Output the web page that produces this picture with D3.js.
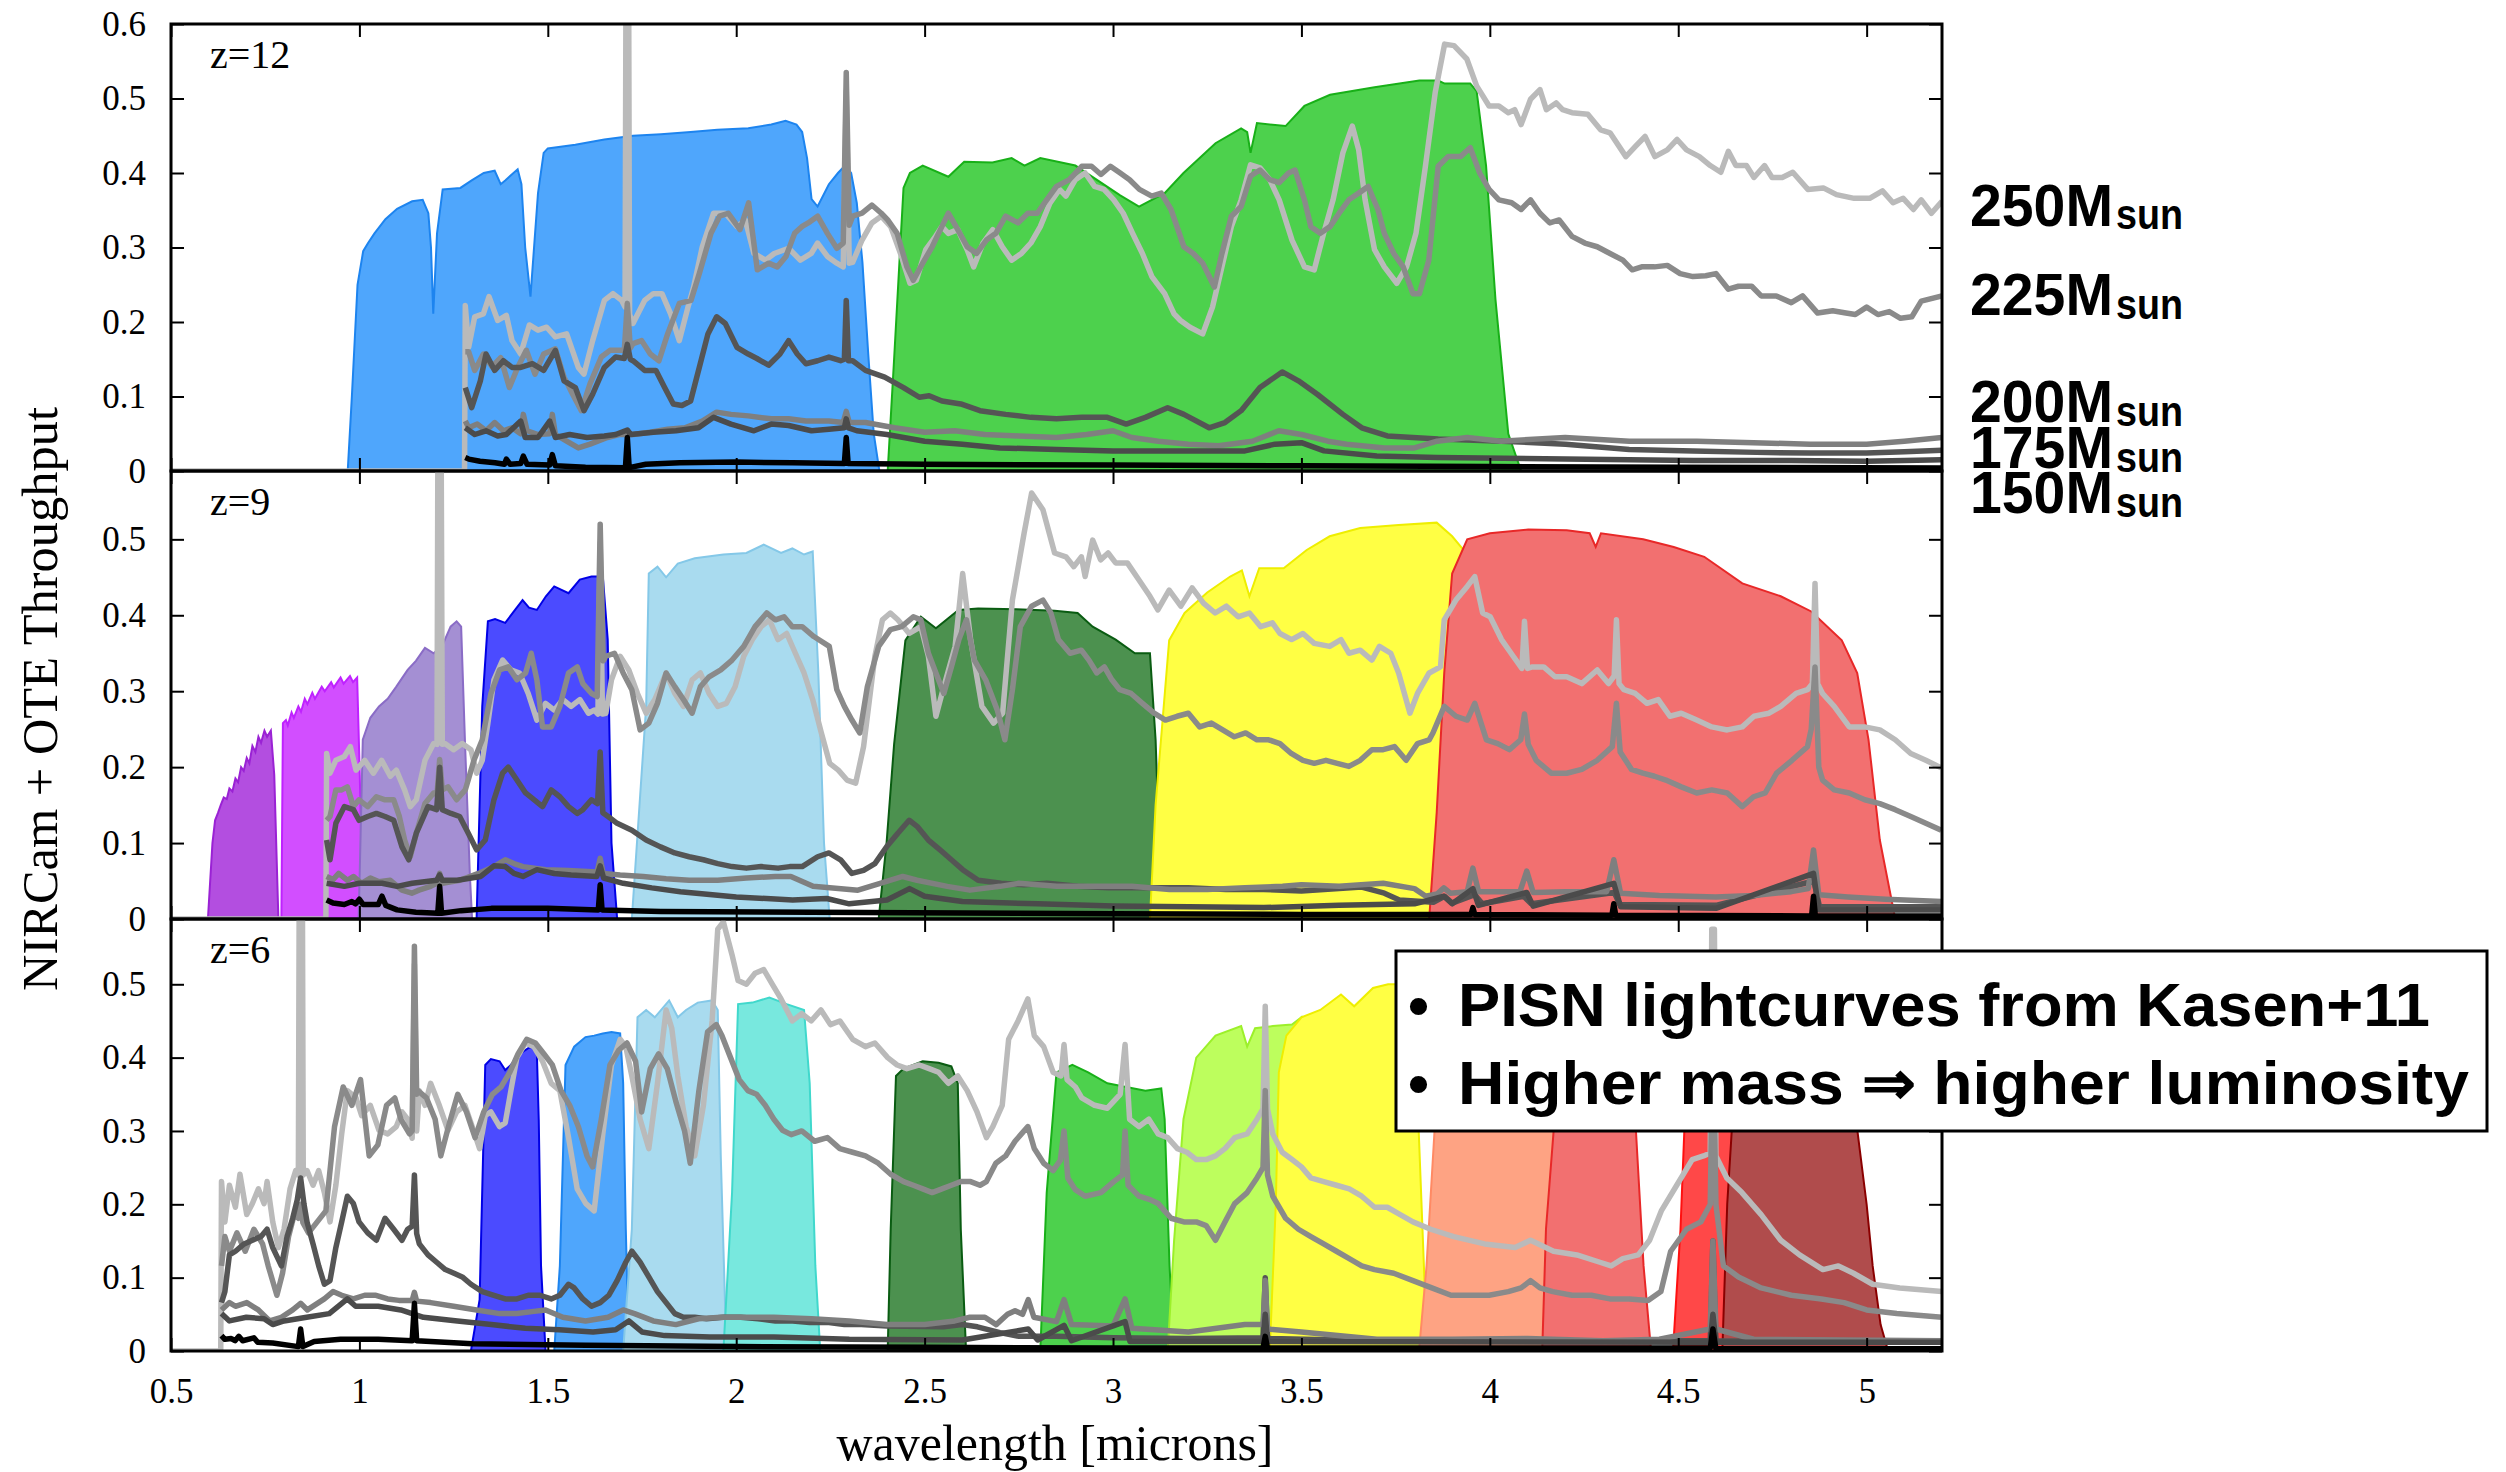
<!DOCTYPE html>
<html><head><meta charset="utf-8">
<script src="https://cdn.jsdelivr.net/npm/d3@7"></script>
<style>html,body{margin:0;padding:0;background:#fff;}svg{display:block;}</style>
</head><body>
<svg id="chart" width="2506" height="1472"></svg>
<script>
// ---------------- DATA ----------------
const xTicks = [0.5,1,1.5,2,2.5,3,3.5,4,4.5,5];
const xTickLabels = ["0.5","1","1.5","2","2.5","3","3.5","4","4.5","5"];
const yTicksTop = [0,0.1,0.2,0.3,0.4,0.5,0.6];
const yTicksLower = [0,0.1,0.2,0.3,0.4,0.5];
const yTickLabels = ["0","0.1","0.2","0.3","0.4","0.5","0.6"];
const panelLabels = ["z=12","z=9","z=6"];
const panelYMax = [0.6,0.59,0.589];
const massLabels = ["250","225","200","175","150"];
const legendLines = ["PISN lightcurves from Kasen+11","Higher mass \u21D2 higher luminosity"];

// filter throughputs [wavelength, throughput]
const z12_F150W2 = [[0.969,0],[0.98,0.1],[0.995,0.25],[1.01,0.295],[1.023,0.306],[1.04,0.319],[1.069,0.338],[1.1,0.352],[1.14,0.362],[1.168,0.364],[1.183,0.346],[1.19,0.3],[1.196,0.211],[1.206,0.319],[1.221,0.378],[1.268,0.38],[1.298,0.39],[1.33,0.4],[1.359,0.403],[1.375,0.385],[1.387,0.39],[1.42,0.405],[1.43,0.385],[1.44,0.3],[1.454,0.234],[1.474,0.373],[1.489,0.427],[1.5,0.433],[1.573,0.438],[1.65,0.445],[1.726,0.45],[1.8,0.452],[1.879,0.455],[1.95,0.458],[2.032,0.46],[2.093,0.465],[2.131,0.47],[2.16,0.465],[2.175,0.455],[2.188,0.42],[2.2,0.365],[2.216,0.355],[2.246,0.385],[2.27,0.4],[2.289,0.41],[2.305,0.4],[2.32,0.36],[2.335,0.28],[2.35,0.16],[2.365,0.05],[2.38,0]];
const z12_F322W2 = [[2.402,0],[2.419,0.15],[2.444,0.38],[2.461,0.4],[2.495,0.41],[2.563,0.395],[2.605,0.415],[2.68,0.414],[2.731,0.42],[2.765,0.41],[2.807,0.42],[2.9,0.41],[3.019,0.37],[3.069,0.355],[3.137,0.373],[3.187,0.4],[3.272,0.44],[3.34,0.46],[3.356,0.455],[3.365,0.427],[3.382,0.467],[3.458,0.463],[3.508,0.49],[3.576,0.505],[3.694,0.515],[3.813,0.524],[3.863,0.524],[3.88,0.52],[3.948,0.52],[3.965,0.51],[3.99,0.41],[4.015,0.23],[4.049,0.05],[4.083,0]];

const z9_F070W = [[0.598,0],[0.61,0.1],[0.617,0.13],[0.625,0.14],[0.632,0.15],[0.64,0.16],[0.648,0.158],[0.655,0.172],[0.663,0.168],[0.671,0.185],[0.678,0.18],[0.686,0.2],[0.693,0.195],[0.701,0.212],[0.708,0.205],[0.716,0.228],[0.724,0.22],[0.732,0.24],[0.739,0.232],[0.748,0.248],[0.755,0.24],[0.765,0.248],[0.774,0.19],[0.785,0]];
const z9_F090W = [[0.793,0],[0.797,0.258],[0.805,0.262],[0.81,0.255],[0.82,0.272],[0.826,0.265],[0.838,0.28],[0.845,0.273],[0.855,0.29],[0.862,0.283],[0.875,0.298],[0.882,0.29],[0.9,0.306],[0.908,0.3],[0.925,0.312],[0.932,0.305],[0.95,0.318],[0.958,0.31],[0.975,0.32],[0.983,0.312],[0.994,0.318],[1.001,0.19],[1.009,0]];
const z9_F115W = [[0.998,0],[1.009,0.236],[1.029,0.265],[1.052,0.28],[1.075,0.29],[1.098,0.306],[1.128,0.328],[1.15,0.34],[1.174,0.357],[1.197,0.35],[1.22,0.36],[1.242,0.385],[1.258,0.392],[1.27,0.385],[1.28,0.236],[1.293,0.06],[1.299,0]];
const z9_F150W = [[1.311,0],[1.326,0.28],[1.341,0.392],[1.36,0.395],[1.387,0.39],[1.41,0.405],[1.433,0.42],[1.45,0.41],[1.471,0.407],[1.495,0.425],[1.517,0.438],[1.555,0.429],[1.585,0.447],[1.616,0.451],[1.646,0.451],[1.659,0.368],[1.669,0.1],[1.684,0]];
const z9_F200W = [[1.723,0],[1.761,0.28],[1.768,0.455],[1.791,0.464],[1.814,0.45],[1.845,0.468],[1.89,0.475],[1.966,0.48],[2.027,0.482],[2.073,0.493],[2.119,0.482],[2.149,0.488],[2.18,0.48],[2.203,0.484],[2.218,0.324],[2.233,0.1],[2.248,0]];
const z9_F277W = [[2.378,0],[2.399,0.1],[2.419,0.23],[2.449,0.367],[2.49,0.398],[2.53,0.383],[2.59,0.407],[2.642,0.409],[2.743,0.408],[2.845,0.406],[2.906,0.403],[2.946,0.385],[3.007,0.368],[3.058,0.35],[3.098,0.35],[3.113,0.236],[3.125,0.06],[3.129,0]];
const z9_F356W = [[3.098,0],[3.113,0.15],[3.149,0.367],[3.19,0.403],[3.25,0.43],[3.311,0.451],[3.342,0.459],[3.362,0.425],[3.388,0.462],[3.453,0.462],[3.514,0.486],[3.575,0.504],[3.656,0.515],[3.758,0.519],[3.859,0.522],[3.9,0.504],[3.93,0.486],[3.96,0.3],[3.99,0.05],[4.0,0]];
const z9_F444W = [[3.839,0],[3.859,0.14],[3.879,0.324],[3.9,0.455],[3.94,0.5],[4.0,0.508],[4.102,0.513],[4.204,0.512],[4.265,0.508],[4.281,0.49],[4.295,0.508],[4.407,0.5],[4.488,0.49],[4.569,0.477],[4.67,0.442],[4.772,0.425],[4.853,0.405],[4.934,0.367],[4.975,0.324],[5.005,0.236],[5.035,0.104],[5.076,0]];

const z6_F140M = [[1.296,0],[1.319,0.07],[1.334,0.39],[1.349,0.398],[1.372,0.395],[1.387,0.383],[1.402,0.39],[1.425,0.405],[1.448,0.413],[1.463,0.415],[1.471,0.405],[1.476,0.315],[1.482,0.116],[1.494,0]];
const z6_F162M = [[1.517,0],[1.532,0.116],[1.547,0.39],[1.57,0.415],[1.6,0.428],[1.623,0.43],[1.646,0.433],[1.669,0.435],[1.692,0.433],[1.7,0.365],[1.707,0.166],[1.715,0]];
const z6_F182M = [[1.7,0],[1.723,0.166],[1.738,0.455],[1.761,0.465],[1.784,0.455],[1.822,0.478],[1.845,0.455],[1.867,0.465],[1.898,0.475],[1.936,0.478],[1.951,0.465],[1.959,0.266],[1.974,0]];
const z6_F210M = [[1.966,0],[1.989,0.216],[2.005,0.473],[2.043,0.475],[2.088,0.482],[2.134,0.473],[2.18,0.465],[2.195,0.365],[2.21,0.116],[2.223,0]];
const z6_F250M = [[2.402,0],[2.41,0.166],[2.424,0.375],[2.444,0.385],[2.495,0.395],[2.537,0.393],[2.571,0.388],[2.588,0.365],[2.596,0.166],[2.61,0]];
const z6_F300M = [[2.807,0],[2.824,0.216],[2.85,0.38],[2.892,0.39],[2.934,0.38],[2.985,0.365],[3.035,0.36],[3.086,0.355],[3.128,0.358],[3.137,0.316],[3.15,0.116],[3.162,0]];
const z6_F335M = [[3.145,0],[3.162,0.15],[3.187,0.316],[3.221,0.4],[3.272,0.43],[3.34,0.443],[3.356,0.415],[3.377,0.44],[3.424,0.443],[3.475,0.445],[3.5,0.455],[3.52,0.3],[3.54,0]];
const z6_F360M = [[3.416,0],[3.432,0.2],[3.44,0.38],[3.46,0.43],[3.5,0.455],[3.55,0.465],[3.605,0.486],[3.64,0.47],[3.69,0.495],[3.73,0.5],[3.78,0.5],[3.8,0.45],[3.815,0.25],[3.83,0.05],[3.84,0]];
const z6_F410M = [[3.812,0],[3.832,0.116],[3.853,0.298],[3.88,0.45],[3.95,0.49],[4.1,0.5],[4.17,0.5],[4.2,0.3],[4.22,0]];
const z6_F430M = [[4.139,0],[4.149,0.166],[4.169,0.298],[4.2,0.46],[4.3,0.49],[4.37,0.47],[4.388,0.298],[4.408,0.116],[4.428,0]];
const z6_F460M = [[4.486,0],[4.506,0.166],[4.516,0.298],[4.55,0.45],[4.6,0.47],[4.64,0.45],[4.66,0.2],[4.68,0]];
const z6_F480M = [[4.617,0],[4.63,0.2],[4.642,0.3],[4.662,0.4],[4.7,0.46],[4.8,0.48],[4.95,0.42],[4.976,0.298],[5.0,0.2],[5.016,0.116],[5.037,0.036],[5.057,0]];

// model spectra [wavelength, flux] -- six curves per redshift
const z12_A = [[0.5,0],[1.279,0],[1.281,0.222],[1.29,0.166],[1.306,0.207],[1.329,0.211],[1.344,0.234],[1.367,0.202],[1.39,0.209],[1.405,0.175],[1.428,0.157],[1.451,0.196],[1.474,0.189],[1.497,0.193],[1.52,0.18],[1.55,0.184],[1.581,0.139],[1.596,0.13],[1.619,0.175],[1.65,0.229],[1.673,0.238],[1.696,0.229],[1.705,0.22],[1.708,0.75],[1.714,0.75],[1.717,0.21],[1.726,0.198],[1.757,0.229],[1.78,0.238],[1.803,0.238],[1.826,0.211],[1.849,0.175],[1.872,0.22],[1.887,0.247],[1.91,0.301],[1.94,0.346],[1.971,0.346],[2.002,0.328],[2.024,0.337],[2.047,0.292],[2.078,0.283],[2.101,0.292],[2.139,0.299],[2.17,0.283],[2.199,0.292],[2.216,0.306],[2.242,0.288],[2.267,0.279],[2.284,0.274],[2.292,0.51],[2.3,0.279],[2.309,0.28],[2.334,0.31],[2.36,0.333],[2.385,0.342],[2.41,0.328],[2.436,0.292],[2.461,0.252],[2.478,0.256],[2.503,0.297],[2.529,0.315],[2.546,0.328],[2.563,0.319],[2.588,0.324],[2.613,0.297],[2.63,0.274],[2.655,0.306],[2.681,0.324],[2.706,0.301],[2.731,0.283],[2.757,0.292],[2.782,0.306],[2.807,0.328],[2.833,0.36],[2.858,0.378],[2.875,0.369],[2.9,0.391],[2.926,0.4],[2.951,0.382],[2.976,0.378],[3.002,0.364],[3.027,0.346],[3.052,0.319],[3.078,0.292],[3.103,0.261],[3.137,0.238],[3.162,0.211],[3.179,0.202],[3.204,0.193],[3.238,0.184],[3.264,0.22],[3.289,0.274],[3.314,0.328],[3.34,0.364],[3.365,0.411],[3.39,0.407],[3.416,0.391],[3.441,0.364],[3.475,0.31],[3.508,0.274],[3.534,0.27],[3.559,0.319],[3.584,0.364],[3.61,0.427],[3.635,0.463],[3.652,0.431],[3.669,0.364],[3.694,0.297],[3.72,0.274],[3.753,0.252],[3.779,0.274],[3.804,0.319],[3.829,0.409],[3.855,0.508],[3.88,0.573],[3.905,0.571],[3.939,0.553],[3.965,0.517],[3.998,0.49],[4.024,0.49],[4.049,0.481],[4.066,0.485],[4.083,0.465],[4.108,0.499],[4.133,0.512],[4.15,0.485],[4.176,0.494],[4.193,0.485],[4.218,0.481],[4.26,0.479],[4.294,0.458],[4.319,0.454],[4.361,0.422],[4.387,0.436],[4.412,0.449],[4.438,0.422],[4.471,0.431],[4.497,0.445],[4.522,0.431],[4.556,0.422],[4.585,0.41],[4.613,0.401],[4.633,0.429],[4.653,0.41],[4.681,0.41],[4.701,0.394],[4.729,0.41],[4.749,0.394],[4.776,0.394],[4.804,0.401],[4.844,0.378],[4.885,0.38],[4.92,0.371],[4.967,0.366],[5.008,0.366],[5.042,0.376],[5.07,0.36],[5.097,0.366],[5.124,0.351],[5.145,0.364],[5.172,0.346],[5.2,0.362]];
const z12_B = [[1.281,0.16],[1.29,0.16],[1.306,0.135],[1.329,0.157],[1.352,0.14],[1.375,0.152],[1.398,0.112],[1.42,0.139],[1.443,0.162],[1.466,0.13],[1.489,0.157],[1.52,0.164],[1.543,0.126],[1.566,0.103],[1.589,0.081],[1.612,0.117],[1.642,0.153],[1.665,0.162],[1.703,0.162],[1.711,0.225],[1.719,0.165],[1.726,0.171],[1.749,0.175],[1.772,0.157],[1.795,0.148],[1.818,0.184],[1.849,0.225],[1.88,0.229],[1.902,0.265],[1.933,0.319],[1.956,0.342],[1.979,0.346],[2.01,0.324],[2.033,0.36],[2.056,0.27],[2.086,0.279],[2.109,0.274],[2.132,0.288],[2.155,0.319],[2.174,0.328],[2.191,0.333],[2.216,0.342],[2.242,0.319],[2.267,0.299],[2.284,0.306],[2.292,0.535],[2.3,0.33],[2.309,0.342],[2.334,0.346],[2.36,0.357],[2.385,0.346],[2.402,0.337],[2.427,0.319],[2.453,0.274],[2.47,0.256],[2.495,0.279],[2.52,0.301],[2.537,0.319],[2.563,0.346],[2.588,0.324],[2.613,0.301],[2.638,0.292],[2.664,0.31],[2.689,0.319],[2.715,0.342],[2.748,0.333],[2.774,0.346],[2.799,0.346],[2.824,0.364],[2.85,0.382],[2.884,0.391],[2.917,0.409],[2.943,0.409],[2.968,0.398],[2.993,0.409],[3.019,0.4],[3.044,0.391],[3.07,0.378],[3.103,0.369],[3.128,0.373],[3.154,0.351],[3.188,0.301],[3.213,0.292],[3.238,0.279],[3.269,0.247],[3.289,0.292],[3.314,0.342],[3.34,0.355],[3.365,0.396],[3.39,0.404],[3.416,0.391],[3.441,0.387],[3.466,0.4],[3.483,0.404],[3.508,0.364],[3.525,0.328],[3.55,0.319],[3.576,0.328],[3.6,0.346],[3.626,0.364],[3.652,0.373],[3.677,0.382],[3.703,0.351],[3.72,0.319],[3.745,0.292],[3.77,0.274],[3.796,0.238],[3.813,0.238],[3.838,0.283],[3.863,0.409],[3.889,0.422],[3.922,0.422],[3.948,0.434],[3.973,0.4],[3.998,0.378],[4.024,0.364],[4.058,0.36],[4.083,0.351],[4.108,0.364],[4.133,0.346],[4.159,0.333],[4.184,0.337],[4.218,0.315],[4.252,0.306],[4.285,0.301],[4.319,0.292],[4.353,0.283],[4.378,0.27],[4.403,0.274],[4.437,0.274],[4.471,0.276],[4.505,0.265],[4.539,0.261],[4.573,0.262],[4.6,0.265],[4.633,0.244],[4.66,0.248],[4.695,0.248],[4.72,0.235],[4.76,0.235],[4.8,0.226],[4.83,0.235],[4.87,0.212],[4.91,0.215],[4.945,0.212],[4.97,0.21],[5.0,0.22],[5.03,0.21],[5.06,0.214],[5.09,0.205],[5.12,0.207],[5.145,0.228],[5.2,0.235]];
const z12_C = [[1.281,0.112],[1.298,0.085],[1.321,0.121],[1.336,0.157],[1.359,0.135],[1.382,0.148],[1.405,0.139],[1.428,0.139],[1.459,0.144],[1.489,0.135],[1.52,0.162],[1.543,0.121],[1.573,0.112],[1.596,0.081],[1.619,0.103],[1.65,0.139],[1.68,0.153],[1.703,0.151],[1.711,0.17],[1.719,0.15],[1.726,0.148],[1.757,0.135],[1.787,0.135],[1.81,0.112],[1.833,0.09],[1.856,0.088],[1.879,0.094],[1.902,0.139],[1.925,0.184],[1.948,0.207],[1.971,0.198],[2.002,0.166],[2.032,0.157],[2.055,0.151],[2.086,0.142],[2.116,0.157],[2.139,0.175],[2.162,0.157],[2.185,0.144],[2.216,0.148],[2.246,0.153],[2.277,0.148],[2.287,0.15],[2.292,0.229],[2.298,0.148],[2.309,0.148],[2.343,0.135],[2.394,0.126],[2.444,0.112],[2.486,0.099],[2.512,0.101],[2.546,0.094],[2.596,0.09],[2.647,0.081],[2.715,0.076],[2.782,0.072],[2.85,0.07],[2.917,0.072],[2.985,0.072],[3.035,0.063],[3.086,0.072],[3.145,0.085],[3.188,0.076],[3.255,0.058],[3.297,0.065],[3.34,0.081],[3.39,0.112],[3.449,0.133],[3.492,0.121],[3.542,0.103],[3.61,0.076],[3.66,0.058],[3.728,0.047],[3.863,0.043],[4.032,0.04],[4.201,0.036],[4.37,0.029],[4.539,0.027],[4.708,0.025],[4.85,0.024],[5.0,0.024],[5.1,0.026],[5.2,0.028]];
const z12_D = [[1.281,0.067],[1.29,0.058],[1.313,0.063],[1.336,0.054],[1.359,0.065],[1.382,0.054],[1.405,0.058],[1.428,0.05],[1.435,0.076],[1.445,0.054],[1.474,0.049],[1.505,0.05],[1.512,0.076],[1.52,0.049],[1.55,0.04],[1.581,0.031],[1.612,0.036],[1.658,0.045],[1.689,0.049],[1.726,0.049],[1.772,0.052],[1.818,0.056],[1.864,0.058],[1.91,0.067],[1.948,0.079],[1.986,0.076],[2.032,0.074],[2.093,0.07],[2.139,0.07],[2.185,0.067],[2.246,0.067],[2.284,0.065],[2.292,0.08],[2.3,0.065],[2.343,0.065],[2.42,0.058],[2.5,0.052],[2.58,0.054],[2.66,0.049],[2.75,0.047],[2.85,0.045],[2.93,0.049],[3.0,0.054],[3.05,0.045],[3.12,0.04],[3.2,0.036],[3.28,0.034],[3.37,0.04],[3.44,0.054],[3.5,0.049],[3.57,0.04],[3.62,0.036],[3.72,0.031],[3.8,0.031],[3.86,0.04],[3.94,0.045],[4.03,0.04],[4.2,0.045],[4.37,0.04],[4.55,0.04],[4.7,0.038],[4.85,0.036],[5.0,0.036],[5.1,0.04],[5.2,0.045]];
const z12_E = [[1.281,0.058],[1.306,0.049],[1.336,0.054],[1.367,0.047],[1.39,0.049],[1.428,0.067],[1.44,0.045],[1.474,0.045],[1.505,0.067],[1.52,0.045],[1.558,0.049],[1.604,0.045],[1.65,0.047],[1.68,0.049],[1.711,0.055],[1.72,0.049],[1.78,0.052],[1.84,0.054],[1.9,0.058],[1.94,0.072],[1.986,0.063],[2.047,0.054],[2.093,0.063],[2.139,0.061],[2.2,0.054],[2.246,0.056],[2.287,0.058],[2.292,0.07],[2.298,0.058],[2.32,0.054],[2.4,0.049],[2.5,0.04],[2.6,0.036],[2.7,0.031],[2.85,0.029],[3.0,0.027],[3.1,0.027],[3.2,0.027],[3.35,0.027],[3.43,0.036],[3.5,0.038],[3.56,0.027],[3.7,0.02],[3.86,0.018],[4.2,0.016],[4.54,0.014],[4.8,0.014],[5.0,0.013],[5.2,0.015]];
const z12_F = [[1.281,0.018],[1.29,0.016],[1.32,0.013],[1.36,0.011],[1.385,0.009],[1.39,0.016],[1.4,0.009],[1.428,0.01],[1.435,0.02],[1.445,0.009],[1.505,0.008],[1.512,0.022],[1.52,0.007],[1.6,0.005],[1.706,0.0045],[1.711,0.045],[1.716,0.0045],[1.76,0.009],[1.85,0.011],[2.0,0.012],[2.15,0.011],[2.287,0.01],[2.292,0.045],[2.297,0.01],[2.5,0.009],[3.0,0.008],[3.5,0.007],[4.0,0.006],[4.5,0.005],[5.2,0.004]];

const z9_A = [[0.5,0],[0.911,0],[0.913,0.218],[0.922,0.192],[0.9375,0.209],[0.96,0.214],[0.976,0.227],[0.991,0.196],[1.014,0.209],[1.037,0.192],[1.059,0.209],[1.082,0.188],[1.098,0.196],[1.12,0.17],[1.135,0.148],[1.151,0.157],[1.174,0.209],[1.197,0.231],[1.206,0.23],[1.209,0.75],[1.216,0.75],[1.22,0.23],[1.227,0.231],[1.25,0.223],[1.273,0.231],[1.296,0.223],[1.311,0.192],[1.326,0.209],[1.341,0.258],[1.357,0.315],[1.38,0.341],[1.402,0.328],[1.425,0.324],[1.448,0.297],[1.471,0.262],[1.494,0.284],[1.517,0.275],[1.54,0.289],[1.562,0.28],[1.585,0.289],[1.608,0.271],[1.623,0.275],[1.633,0.27],[1.639,0.495],[1.645,0.27],[1.654,0.271],[1.669,0.315],[1.692,0.346],[1.715,0.328],[1.738,0.297],[1.761,0.271],[1.784,0.289],[1.814,0.324],[1.837,0.297],[1.86,0.28],[1.883,0.315],[1.905,0.324],[1.928,0.297],[1.951,0.28],[1.974,0.284],[1.997,0.306],[2.02,0.346],[2.043,0.368],[2.066,0.385],[2.088,0.394],[2.111,0.368],[2.134,0.376],[2.157,0.35],[2.18,0.324],[2.203,0.289],[2.226,0.245],[2.248,0.205],[2.271,0.196],[2.294,0.183],[2.317,0.179],[2.338,0.227],[2.368,0.346],[2.388,0.394],[2.409,0.403],[2.429,0.394],[2.459,0.376],[2.49,0.385],[2.51,0.346],[2.53,0.267],[2.551,0.306],[2.581,0.359],[2.601,0.455],[2.622,0.368],[2.652,0.28],[2.683,0.258],[2.707,0.271],[2.733,0.42],[2.764,0.508],[2.784,0.561],[2.814,0.539],[2.845,0.482],[2.875,0.477],[2.896,0.464],[2.916,0.477],[2.926,0.451],[2.946,0.499],[2.967,0.473],[2.987,0.482],[3.007,0.469],[3.038,0.469],[3.068,0.447],[3.098,0.425],[3.119,0.407],[3.149,0.433],[3.18,0.412],[3.21,0.436],[3.24,0.416],[3.271,0.403],[3.301,0.412],[3.332,0.398],[3.362,0.403],[3.392,0.385],[3.423,0.39],[3.443,0.376],[3.474,0.368],[3.504,0.376],[3.534,0.363],[3.575,0.359],[3.605,0.368],[3.626,0.35],[3.656,0.354],[3.687,0.341],[3.707,0.359],[3.737,0.35],[3.758,0.324],[3.788,0.271],[3.808,0.297],[3.839,0.324],[3.869,0.332],[3.879,0.394],[3.91,0.42],[3.94,0.438],[3.96,0.451],[3.981,0.403],[4.001,0.398],[4.031,0.368],[4.062,0.346],[4.085,0.33],[4.092,0.392],[4.1,0.33],[4.113,0.332],[4.143,0.332],[4.173,0.319],[4.204,0.319],[4.244,0.31],[4.285,0.328],[4.315,0.31],[4.33,0.32],[4.336,0.394],[4.343,0.31],[4.356,0.302],[4.386,0.297],[4.417,0.284],[4.447,0.289],[4.478,0.267],[4.508,0.271],[4.549,0.262],[4.589,0.253],[4.63,0.249],[4.67,0.253],[4.701,0.267],[4.741,0.271],[4.772,0.28],[4.813,0.297],[4.843,0.302],[4.856,0.31],[4.863,0.442],[4.87,0.31],[4.883,0.297],[4.914,0.28],[4.954,0.253],[4.995,0.253],[5.035,0.249],[5.076,0.236],[5.117,0.218],[5.157,0.209],[5.198,0.199]];
const z9_B = [[0.913,0.13],[0.922,0.135],[0.9375,0.17],[0.953,0.17],[0.968,0.174],[0.984,0.148],[0.999,0.157],[1.022,0.148],[1.045,0.161],[1.068,0.157],[1.091,0.157],[1.106,0.135],[1.12,0.104],[1.135,0.082],[1.151,0.113],[1.174,0.152],[1.197,0.166],[1.206,0.165],[1.213,0.21],[1.22,0.17],[1.235,0.174],[1.258,0.157],[1.281,0.17],[1.304,0.209],[1.326,0.236],[1.349,0.297],[1.372,0.328],[1.395,0.332],[1.418,0.315],[1.441,0.324],[1.456,0.35],[1.471,0.315],[1.486,0.253],[1.509,0.253],[1.532,0.28],[1.555,0.324],[1.578,0.332],[1.593,0.31],[1.616,0.297],[1.631,0.293],[1.639,0.52],[1.647,0.34],[1.654,0.346],[1.677,0.35],[1.7,0.324],[1.723,0.302],[1.745,0.249],[1.768,0.258],[1.791,0.284],[1.814,0.324],[1.837,0.306],[1.86,0.289],[1.883,0.271],[1.905,0.306],[1.928,0.319],[1.959,0.328],[1.989,0.341],[2.02,0.359],[2.05,0.385],[2.081,0.403],[2.104,0.394],[2.127,0.398],[2.149,0.385],[2.175,0.385],[2.206,0.372],[2.247,0.359],[2.267,0.302],[2.287,0.28],[2.307,0.262],[2.328,0.245],[2.348,0.306],[2.378,0.359],[2.409,0.381],[2.439,0.385],[2.47,0.398],[2.49,0.394],[2.51,0.35],[2.53,0.324],[2.551,0.297],[2.571,0.332],[2.591,0.368],[2.611,0.394],[2.632,0.341],[2.662,0.315],[2.693,0.275],[2.713,0.236],[2.733,0.302],[2.754,0.385],[2.784,0.412],[2.814,0.42],[2.835,0.403],[2.855,0.368],[2.886,0.35],[2.916,0.354],[2.936,0.341],[2.957,0.324],[2.977,0.332],[2.997,0.315],[3.018,0.302],[3.048,0.297],[3.078,0.284],[3.109,0.271],[3.139,0.262],[3.17,0.267],[3.2,0.271],[3.23,0.253],[3.261,0.258],[3.291,0.249],[3.322,0.24],[3.352,0.245],[3.382,0.236],[3.413,0.236],[3.443,0.231],[3.473,0.218],[3.504,0.209],[3.534,0.205],[3.565,0.209],[3.595,0.205],[3.626,0.201],[3.656,0.209],[3.687,0.223],[3.717,0.223],[3.747,0.227],[3.778,0.209],[3.808,0.231],[3.839,0.236],[3.849,0.245],[3.879,0.28],[3.91,0.267],[3.94,0.262],[3.96,0.284],[3.991,0.236],[4.021,0.231],[4.052,0.223],[4.082,0.236],[4.092,0.27],[4.102,0.23],[4.123,0.209],[4.163,0.192],[4.204,0.192],[4.244,0.197],[4.285,0.209],[4.325,0.227],[4.336,0.284],[4.346,0.22],[4.376,0.197],[4.406,0.192],[4.437,0.188],[4.467,0.183],[4.508,0.174],[4.549,0.166],[4.589,0.17],[4.63,0.166],[4.67,0.148],[4.7,0.161],[4.731,0.166],[4.761,0.192],[4.802,0.209],[4.843,0.227],[4.853,0.25],[4.863,0.332],[4.873,0.2],[4.883,0.183],[4.914,0.17],[4.954,0.166],[4.995,0.157],[5.035,0.152],[5.076,0.144],[5.117,0.135],[5.157,0.126],[5.198,0.117]];
const z9_C = [[0.913,0.104],[0.922,0.078],[0.9375,0.126],[0.96,0.148],[0.984,0.144],[0.999,0.13],[1.022,0.135],[1.045,0.139],[1.068,0.135],[1.091,0.13],[1.113,0.095],[1.131,0.078],[1.151,0.113],[1.182,0.148],[1.205,0.144],[1.213,0.2],[1.22,0.144],[1.243,0.139],[1.266,0.135],[1.289,0.113],[1.311,0.091],[1.334,0.104],[1.357,0.157],[1.38,0.192],[1.395,0.2],[1.418,0.183],[1.441,0.166],[1.464,0.157],[1.486,0.148],[1.509,0.17],[1.532,0.161],[1.555,0.148],[1.578,0.139],[1.593,0.144],[1.616,0.157],[1.632,0.152],[1.639,0.22],[1.646,0.14],[1.66,0.135],[1.684,0.126],[1.723,0.117],[1.761,0.104],[1.799,0.095],[1.837,0.087],[1.875,0.082],[1.913,0.078],[1.951,0.073],[1.989,0.069],[2.027,0.067],[2.066,0.069],[2.111,0.067],[2.142,0.069],[2.175,0.069],[2.216,0.082],[2.246,0.087],[2.277,0.078],[2.307,0.06],[2.338,0.064],[2.368,0.073],[2.399,0.095],[2.429,0.113],[2.459,0.13],[2.48,0.122],[2.51,0.104],[2.541,0.091],[2.571,0.078],[2.601,0.065],[2.642,0.051],[2.703,0.047],[2.764,0.045],[2.825,0.047],[2.906,0.043],[2.987,0.041],[3.1,0.041],[3.2,0.041],[3.3,0.039],[3.4,0.039],[3.5,0.037],[3.6,0.04],[3.66,0.042],[3.72,0.034],[3.76,0.025],[3.85,0.022],[3.88,0.03],[3.9,0.021],[3.96,0.032],[3.98,0.02],[4.09,0.03],[4.11,0.02],[4.33,0.035],[4.345,0.019],[4.6,0.018],[4.86,0.05],[4.875,0.016],[5.2,0.016]];
const z9_D = [[0.913,0.056],[0.93,0.052],[0.945,0.06],[0.968,0.051],[0.984,0.056],[1.006,0.047],[1.029,0.054],[1.052,0.049],[1.082,0.051],[1.113,0.038],[1.139,0.034],[1.158,0.038],[1.189,0.043],[1.205,0.047],[1.213,0.06],[1.22,0.047],[1.266,0.051],[1.316,0.06],[1.357,0.069],[1.387,0.078],[1.41,0.073],[1.434,0.069],[1.494,0.065],[1.554,0.064],[1.631,0.062],[1.639,0.08],[1.647,0.06],[1.692,0.058],[1.753,0.056],[1.814,0.053],[1.875,0.051],[1.951,0.051],[2.027,0.054],[2.104,0.056],[2.145,0.056],[2.204,0.043],[2.323,0.038],[2.382,0.047],[2.442,0.056],[2.48,0.051],[2.56,0.043],[2.62,0.038],[2.7,0.043],[2.75,0.047],[2.85,0.043],[2.95,0.043],[3.05,0.043],[3.15,0.039],[3.25,0.039],[3.35,0.041],[3.45,0.043],[3.5,0.045],[3.6,0.043],[3.717,0.047],[3.8,0.04],[3.83,0.03],[3.86,0.033],[3.878,0.041],[3.895,0.034],[3.94,0.036],[3.955,0.067],[3.97,0.036],[4.08,0.036],[4.098,0.063],[4.115,0.035],[4.2,0.036],[4.31,0.036],[4.329,0.078],[4.347,0.034],[4.45,0.031],[4.6,0.029],[4.7,0.031],[4.8,0.036],[4.845,0.04],[4.859,0.091],[4.873,0.032],[4.95,0.029],[5.05,0.026],[5.2,0.023]];
const z9_E = [[0.913,0.047],[0.96,0.043],[1.0,0.047],[1.06,0.047],[1.1,0.043],[1.14,0.047],[1.205,0.051],[1.213,0.058],[1.22,0.051],[1.26,0.051],[1.322,0.056],[1.357,0.07],[1.387,0.069],[1.41,0.06],[1.434,0.056],[1.471,0.065],[1.517,0.06],[1.562,0.058],[1.63,0.056],[1.639,0.07],[1.648,0.054],[1.7,0.047],[1.776,0.041],[1.852,0.036],[2.0,0.029],[2.15,0.025],[2.24,0.027],[2.3,0.02],[2.4,0.025],[2.46,0.04],[2.5,0.03],[2.6,0.023],[2.8,0.02],[3.0,0.017],[3.2,0.016],[3.4,0.015],[3.6,0.018],[3.8,0.02],[3.878,0.03],[3.9,0.02],[3.955,0.04],[3.97,0.018],[4.098,0.035],[4.115,0.017],[4.329,0.047],[4.347,0.016],[4.6,0.014],[4.859,0.06],[4.873,0.012],[5.2,0.012]];
const z9_F = [[0.913,0.025],[0.93,0.021],[0.96,0.019],[0.98,0.023],[0.99,0.02],[1.0,0.026],[1.01,0.019],[1.05,0.019],[1.06,0.03],[1.07,0.018],[1.1,0.012],[1.15,0.009],[1.208,0.0075],[1.213,0.043],[1.218,0.0075],[1.27,0.011],[1.35,0.014],[1.5,0.014],[1.634,0.012],[1.639,0.045],[1.644,0.012],[1.8,0.01],[2.2,0.009],[2.6,0.008],[3.0,0.007],[3.5,0.006],[3.95,0.006],[3.955,0.015],[3.96,0.006],[4.324,0.005],[4.329,0.02],[4.334,0.005],[4.854,0.004],[4.859,0.03],[4.864,0.004],[5.2,0.004]];

const z6_A = [[0.5,0],[0.632,0],[0.634,0.231],[0.643,0.176],[0.655,0.226],[0.671,0.196],[0.683,0.241],[0.701,0.186],[0.716,0.201],[0.732,0.221],[0.747,0.201],[0.755,0.231],[0.77,0.176],[0.785,0.141],[0.8,0.166],[0.816,0.221],[0.831,0.246],[0.838,0.24],[0.841,0.75],[0.848,0.75],[0.851,0.24],[0.861,0.246],[0.877,0.226],[0.892,0.246],[0.907,0.216],[0.922,0.176],[0.9375,0.226],[0.953,0.296],[0.968,0.355],[0.991,0.345],[1.006,0.321],[1.029,0.335],[1.052,0.301],[1.075,0.296],[1.098,0.306],[1.113,0.326],[1.128,0.316],[1.14,0.29],[1.146,0.527],[1.152,0.3],[1.159,0.355],[1.174,0.335],[1.189,0.365],[1.212,0.335],[1.235,0.301],[1.258,0.326],[1.28,0.335],[1.296,0.311],[1.319,0.276],[1.334,0.321],[1.349,0.326],[1.372,0.306],[1.387,0.311],[1.402,0.355],[1.418,0.4],[1.441,0.42],[1.463,0.415],[1.486,0.395],[1.509,0.365],[1.532,0.355],[1.555,0.291],[1.578,0.221],[1.601,0.201],[1.623,0.191],[1.646,0.296],[1.669,0.39],[1.692,0.425],[1.707,0.415],[1.723,0.375],[1.745,0.316],[1.768,0.276],[1.791,0.365],[1.814,0.465],[1.829,0.44],[1.845,0.375],[1.867,0.306],[1.89,0.266],[1.913,0.335],[1.936,0.45],[1.951,0.575],[1.966,0.585],[1.989,0.54],[2.005,0.505],[2.027,0.5],[2.05,0.515],[2.073,0.52],[2.096,0.5],[2.119,0.48],[2.149,0.45],[2.174,0.46],[2.199,0.45],[2.225,0.465],[2.25,0.445],[2.275,0.45],[2.309,0.425],[2.343,0.415],[2.368,0.42],[2.402,0.4],[2.427,0.39],[2.453,0.385],[2.486,0.39],[2.512,0.385],[2.537,0.38],[2.563,0.365],[2.588,0.375],[2.613,0.355],[2.639,0.326],[2.664,0.291],[2.681,0.306],[2.706,0.335],[2.723,0.425],[2.748,0.45],[2.774,0.48],[2.791,0.43],[2.816,0.415],[2.841,0.38],[2.862,0.375],[2.87,0.418],[2.878,0.37],[2.9,0.36],[2.917,0.345],[2.951,0.335],[2.985,0.331],[3.019,0.35],[3.032,0.418],[3.044,0.316],[3.069,0.306],[3.095,0.316],[3.12,0.296],[3.145,0.291],[3.171,0.276],[3.196,0.271],[3.221,0.261],[3.247,0.261],[3.272,0.266],[3.297,0.276],[3.323,0.291],[3.356,0.296],[3.382,0.316],[3.398,0.33],[3.404,0.47],[3.41,0.33],[3.424,0.296],[3.449,0.271],[3.475,0.261],[3.5,0.251],[3.525,0.236],[3.559,0.231],[3.593,0.226],[3.627,0.221],[3.66,0.211],[3.694,0.196],[3.728,0.196],[3.762,0.186],[3.796,0.176],[3.843,0.166],[3.904,0.156],[3.986,0.146],[4.067,0.141],[4.108,0.151],[4.169,0.136],[4.231,0.131],[4.292,0.121],[4.322,0.116],[4.353,0.126],[4.394,0.131],[4.424,0.151],[4.455,0.191],[4.496,0.226],[4.537,0.261],[4.567,0.266],[4.585,0.27],[4.589,0.575],[4.596,0.575],[4.6,0.266],[4.629,0.236],[4.669,0.216],[4.72,0.186],[4.772,0.151],[4.822,0.131],[4.884,0.111],[4.925,0.116],[4.965,0.106],[5.016,0.091],[5.088,0.086],[5.2,0.081]];
const z6_B = [[0.634,0.116],[0.643,0.156],[0.655,0.136],[0.675,0.161],[0.697,0.136],[0.72,0.166],[0.743,0.146],[0.758,0.116],[0.781,0.076],[0.796,0.106],[0.812,0.156],[0.827,0.186],[0.838,0.181],[0.844,0.2],[0.85,0.175],[0.865,0.161],[0.888,0.176],[0.911,0.191],[0.934,0.306],[0.957,0.36],[0.98,0.335],[1.003,0.37],[1.026,0.266],[1.049,0.281],[1.072,0.335],[1.094,0.345],[1.11,0.316],[1.133,0.296],[1.14,0.3],[1.146,0.552],[1.152,0.35],[1.155,0.355],[1.178,0.345],[1.201,0.316],[1.216,0.266],[1.239,0.311],[1.261,0.35],[1.284,0.326],[1.307,0.291],[1.33,0.326],[1.353,0.35],[1.376,0.36],[1.399,0.38],[1.421,0.405],[1.444,0.425],[1.467,0.42],[1.49,0.405],[1.512,0.39],[1.535,0.355],[1.558,0.335],[1.581,0.306],[1.604,0.266],[1.619,0.251],[1.642,0.316],[1.665,0.39],[1.688,0.41],[1.71,0.42],[1.733,0.395],[1.749,0.326],[1.772,0.385],[1.794,0.405],[1.817,0.385],[1.84,0.34],[1.863,0.3],[1.878,0.256],[1.901,0.355],[1.924,0.435],[1.947,0.445],[1.962,0.43],[1.985,0.4],[2.008,0.37],[2.031,0.355],[2.054,0.35],[2.077,0.335],[2.1,0.316],[2.123,0.301],[2.146,0.295],[2.174,0.3],[2.208,0.286],[2.242,0.291],[2.275,0.276],[2.309,0.271],[2.343,0.266],[2.377,0.256],[2.41,0.241],[2.444,0.231],[2.47,0.226],[2.495,0.221],[2.52,0.216],[2.546,0.221],[2.571,0.226],[2.596,0.231],[2.622,0.231],[2.647,0.226],[2.664,0.231],[2.689,0.256],[2.715,0.266],[2.74,0.286],[2.757,0.296],[2.774,0.306],[2.791,0.276],[2.816,0.256],[2.841,0.246],[2.86,0.26],[2.87,0.3],[2.88,0.236],[2.9,0.22],[2.926,0.211],[2.968,0.216],[3.002,0.231],[3.025,0.24],[3.032,0.3],[3.04,0.226],[3.069,0.211],[3.1,0.206],[3.12,0.201],[3.154,0.181],[3.188,0.176],[3.221,0.176],[3.247,0.171],[3.272,0.151],[3.297,0.176],[3.323,0.201],[3.356,0.216],[3.382,0.236],[3.398,0.25],[3.404,0.355],[3.41,0.24],[3.424,0.211],[3.458,0.181],[3.492,0.166],[3.525,0.156],[3.559,0.146],[3.593,0.136],[3.627,0.126],[3.66,0.116],[3.694,0.111],[3.745,0.106],[3.796,0.096],[3.846,0.086],[3.897,0.076],[3.948,0.076],[3.998,0.076],[4.049,0.081],[4.083,0.086],[4.108,0.096],[4.133,0.086],[4.167,0.081],[4.218,0.076],[4.269,0.076],[4.319,0.071],[4.37,0.071],[4.42,0.069],[4.454,0.081],[4.48,0.136],[4.522,0.166],[4.56,0.176],[4.585,0.2],[4.592,0.44],[4.6,0.2],[4.62,0.116],[4.66,0.101],[4.72,0.086],[4.8,0.076],[4.88,0.071],[4.94,0.066],[5.0,0.056],[5.08,0.051],[5.2,0.046]];
const z6_C = [[0.634,0.066],[0.643,0.081],[0.655,0.131],[0.671,0.136],[0.694,0.146],[0.716,0.151],[0.739,0.156],[0.755,0.166],[0.77,0.141],[0.793,0.116],[0.808,0.156],[0.823,0.181],[0.835,0.206],[0.844,0.236],[0.853,0.2],[0.861,0.176],[0.877,0.146],[0.892,0.116],[0.907,0.091],[0.922,0.096],[0.9375,0.141],[0.953,0.176],[0.968,0.211],[0.984,0.201],[0.999,0.176],[1.022,0.161],[1.045,0.151],[1.068,0.181],[1.091,0.166],[1.113,0.151],[1.128,0.166],[1.14,0.17],[1.146,0.24],[1.152,0.16],[1.159,0.146],[1.182,0.131],[1.205,0.121],[1.228,0.111],[1.251,0.106],[1.273,0.101],[1.296,0.091],[1.326,0.081],[1.357,0.076],[1.387,0.071],[1.418,0.071],[1.448,0.076],[1.479,0.076],[1.509,0.071],[1.532,0.076],[1.555,0.091],[1.57,0.086],[1.593,0.071],[1.616,0.061],[1.639,0.066],[1.662,0.076],[1.684,0.096],[1.707,0.121],[1.723,0.136],[1.745,0.121],[1.768,0.101],[1.791,0.081],[1.814,0.066],[1.837,0.051],[1.86,0.046],[1.89,0.046],[1.921,0.044],[1.966,0.046],[2.012,0.046],[2.058,0.044],[2.104,0.041],[2.15,0.041],[2.195,0.039],[2.241,0.039],[2.287,0.036],[2.332,0.036],[2.4,0.034],[2.55,0.033],[2.6,0.036],[2.64,0.033],[2.7,0.025],[2.75,0.02],[2.85,0.02],[3.0,0.018],[3.2,0.017],[3.398,0.018],[3.404,0.1],[3.41,0.017],[3.6,0.015],[4.0,0.014],[4.585,0.014],[4.592,0.15],[4.6,0.014],[5.2,0.013]];
const z6_D = [[0.634,0.056],[0.655,0.066],[0.671,0.061],[0.701,0.066],[0.732,0.056],[0.762,0.041],[0.793,0.046],[0.823,0.056],[0.844,0.065],[0.862,0.056],[0.907,0.071],[0.93,0.081],[0.953,0.076],[0.984,0.071],[1.014,0.076],[1.044,0.076],[1.075,0.071],[1.105,0.069],[1.14,0.069],[1.146,0.08],[1.152,0.068],[1.189,0.066],[1.25,0.061],[1.311,0.056],[1.372,0.051],[1.418,0.051],[1.463,0.054],[1.494,0.056],[1.54,0.046],[1.6,0.041],[1.66,0.046],[1.7,0.056],[1.73,0.051],[1.78,0.041],[1.84,0.036],[1.9,0.044],[1.96,0.046],[2.03,0.046],[2.1,0.046],[2.2,0.044],[2.3,0.041],[2.4,0.036],[2.5,0.036],[2.58,0.041],[2.62,0.046],[2.66,0.046],[2.69,0.036],[2.72,0.05],[2.74,0.055],[2.76,0.05],[2.775,0.07],[2.79,0.046],[2.85,0.04],[2.87,0.07],[2.89,0.036],[3.0,0.034],[3.032,0.071],[3.05,0.031],[3.2,0.026],[3.35,0.036],[3.398,0.036],[3.404,0.096],[3.41,0.03],[3.5,0.026],[3.7,0.016],[3.9,0.016],[4.1,0.017],[4.3,0.014],[4.45,0.016],[4.585,0.03],[4.592,0.15],[4.6,0.03],[4.7,0.016],[5.2,0.014]];
const z6_E = [[0.634,0.051],[0.655,0.041],[0.7,0.046],[0.747,0.044],[0.77,0.036],[0.8,0.041],[0.86,0.046],[0.92,0.051],[0.968,0.071],[0.99,0.061],[1.05,0.061],[1.11,0.056],[1.17,0.046],[1.26,0.041],[1.35,0.036],[1.44,0.031],[1.53,0.029],[1.62,0.026],[1.68,0.029],[1.715,0.041],[1.75,0.026],[1.81,0.021],[1.93,0.019],[2.1,0.019],[2.3,0.016],[2.6,0.015],[2.775,0.03],[2.8,0.015],[2.87,0.035],[2.89,0.014],[3.032,0.04],[3.045,0.013],[3.398,0.013],[3.404,0.05],[3.41,0.013],[4.585,0.012],[4.592,0.05],[4.6,0.012],[5.2,0.012]];
const z6_F = [[0.634,0.021],[0.643,0.016],[0.66,0.017],[0.67,0.014],[0.68,0.02],[0.69,0.014],[0.72,0.018],[0.73,0.012],[0.77,0.011],[0.838,0.006],[0.844,0.03],[0.85,0.006],[0.88,0.013],[0.95,0.016],[1.05,0.016],[1.14,0.014],[1.146,0.065],[1.152,0.014],[1.3,0.01],[1.6,0.008],[2.0,0.006],[2.5,0.005],[3.0,0.004],[3.398,0.004],[3.404,0.02],[3.41,0.004],[4.585,0.004],[4.592,0.03],[4.6,0.003],[5.2,0.003]];

// ---------------- STYLE / LAYOUT ----------------
const filterStyle = {
  F150W2:["#4fa6fc","#1d84ef"], F322W2:["#4dd14d","#18b018"],
  F070W:["#b34ee0","#9a22d4"], F090W:["#d24eff","#bf22ff"], F115W:["#a48fd3","#8a6cc6"],
  F150W:["#4b4bff","#0000e6"], F200W:["#a9dbef","#84c8e8"], F277W:["#4c914f","#0a5c12"],
  F356W:["#ffff44","#eeee00"], F444W:["#f27070","#e82828"],
  F140M:["#4b4bff","#0000e6"], F162M:["#4fa6fc","#1d84ef"], F182M:["#a9dbef","#84c8e8"],
  F210M:["#78e8de","#40d8cc"], F250M:["#4c914f","#0a5c12"], F300M:["#4dd14d","#18b018"],
  F335M:["#bdfe5d","#9cf02a"], F360M:["#ffff44","#eeee00"], F410M:["#fea383","#ff8a64"],
  F430M:["#f27070","#e82828"], F460M:["#ff4848","#ff1010"], F480M:["#b04c4c","#8a0000"]
};
const panels = [
  {filters:[["F150W2",z12_F150W2],["F322W2",z12_F322W2]], curves:[z12_A,z12_B,z12_C,z12_D,z12_E,z12_F]},
  {filters:[["F070W",z9_F070W],["F090W",z9_F090W],["F115W",z9_F115W],["F150W",z9_F150W],["F200W",z9_F200W],["F277W",z9_F277W],["F356W",z9_F356W],["F444W",z9_F444W]], curves:[z9_A,z9_B,z9_C,z9_D,z9_E,z9_F]},
  {filters:[["F140M",z6_F140M],["F162M",z6_F162M],["F182M",z6_F182M],["F210M",z6_F210M],["F250M",z6_F250M],["F300M",z6_F300M],["F335M",z6_F335M],["F360M",z6_F360M],["F410M",z6_F410M],["F430M",z6_F430M],["F460M",z6_F460M],["F480M",z6_F480M]], curves:[z6_A,z6_B,z6_C,z6_D,z6_E,z6_F]}
];
const curveColors = ["#bababa","#8a8a8a","#555555","#7f7f7f","#4b4b4b","#000000"];
const panelBoxes = [[24,471],[471,919],[919,1351]];
const plotLeft = 171, plotRight = 1942;
const serif = "'Liberation Serif','Times New Roman',Times,serif";
const sans = "'Liberation Sans',Arial,Helvetica,sans-serif";

const svg = d3.select("#chart");
svg.append("rect").attr("width",2506).attr("height",1472).attr("fill","#fff");
const x = d3.scaleLinear().domain([0.5,5.2]).range([plotLeft,plotRight]);
const defs = svg.append("defs");

panels.forEach((p,i)=>{
  const [top,bottom] = panelBoxes[i];
  const y = d3.scaleLinear().domain([0,panelYMax[i]]).range([bottom,top]);
  defs.append("clipPath").attr("id","clip"+i).append("rect")
    .attr("x",plotLeft).attr("y",top).attr("width",plotRight-plotLeft).attr("height",bottom-top);
  const plot = svg.append("g").attr("clip-path",`url(#clip${i})`);
  const area = d3.area().x(d=>x(d[0])).y0(y(0)).y1(d=>y(d[1]));
  p.filters.forEach(([name,data])=>{
    plot.append("path").datum(data).attr("d",area)
      .attr("fill",filterStyle[name][0]).attr("stroke",filterStyle[name][1]).attr("stroke-width",2);
  });
  const line = d3.line().x(d=>x(d[0])).y(d=>y(d[1]));
  p.curves.forEach((c,j)=>{
    plot.append("path").datum(c).attr("d",line).attr("fill","none")
      .attr("stroke",curveColors[j]).attr("stroke-width",5.5)
      .attr("stroke-linejoin","round").attr("stroke-linecap","butt");
  });
  const yT = i===0 ? yTicksTop : yTicksLower;
  const styleAxis = g=>{ g.select(".domain").remove();
    g.selectAll("line").attr("stroke","#000").attr("stroke-width",2);
    g.selectAll("text").attr("font-family",serif).attr("font-size",35).attr("fill","#000"); };
  svg.append("g").attr("transform",`translate(${plotLeft},0)`)
    .call(d3.axisLeft(y).tickValues(yT).tickSizeInner(-13).tickSizeOuter(0).tickPadding(25)
      .tickFormat(d=>yTickLabels[Math.round(d*10)])).call(styleAxis);
  svg.append("g").attr("transform",`translate(${plotRight},0)`)
    .call(d3.axisRight(y).tickValues(yT).tickSizeInner(-13).tickSizeOuter(0).tickFormat("")).call(styleAxis);
  svg.append("g").attr("transform",`translate(0,${top})`)
    .call(d3.axisTop(x).tickValues(xTicks).tickSizeInner(-13).tickSizeOuter(0).tickFormat("")).call(styleAxis);
  svg.append("g").attr("transform",`translate(0,${bottom})`)
    .call(d3.axisBottom(x).tickValues(xTicks).tickSizeInner(-13).tickSizeOuter(0).tickPadding(27)
      .tickFormat((d,k)=> i===2 ? xTickLabels[k] : "")).call(styleAxis);
  svg.append("rect").attr("x",plotLeft).attr("y",top).attr("width",plotRight-plotLeft).attr("height",bottom-top)
    .attr("fill","none").attr("stroke","#000").attr("stroke-width",3);
  svg.append("text").attr("x",210).attr("y",top+44).attr("font-family",serif).attr("font-size",40)
    .attr("fill","#000").text(panelLabels[i]);
});

// axis titles
svg.append("text").attr("transform","translate(57,699) rotate(-90)").attr("text-anchor","middle")
  .attr("font-family",serif).attr("font-size",51).attr("textLength",584).attr("lengthAdjust","spacingAndGlyphs")
  .attr("fill","#000").text("NIRCam + OTE Throughput");
svg.append("text").attr("x",1055).attr("y",1460).attr("text-anchor","middle")
  .attr("font-family",serif).attr("font-size",50).attr("textLength",437).attr("lengthAdjust","spacingAndGlyphs")
  .attr("fill","#000").text("wavelength [microns]");

// mass labels
const massBaselines = [225.5,315,422,468,513];
massLabels.forEach((m,k)=>{
  svg.append("text").attr("x",1970).attr("y",massBaselines[k]).attr("font-family",sans).attr("font-weight","bold")
    .attr("font-size",59).attr("textLength",143).attr("lengthAdjust","spacingAndGlyphs").attr("fill","#000").text(m+"M");
  svg.append("text").attr("x",2116).attr("y",massBaselines[k]+3.5).attr("font-family",sans).attr("font-weight","bold")
    .attr("font-size",42).attr("textLength",67).attr("lengthAdjust","spacingAndGlyphs").attr("fill","#000").text("sun");
});

// legend box
svg.append("rect").attr("x",1396).attr("y",951).attr("width",1091).attr("height",180)
  .attr("fill","#fff").attr("stroke","#000").attr("stroke-width",3);
const legendBaselines = [1026,1104];
const legendLengths = [972,1011];
legendLines.forEach((t,k)=>{
  svg.append("text").attr("x",1408).attr("y",legendBaselines[k]).attr("font-family",sans).attr("font-weight","bold")
    .attr("font-size",60).attr("fill","#000").text("\u2022");
  svg.append("text").attr("x",1458).attr("y",legendBaselines[k]).attr("font-family",sans).attr("font-weight","bold")
    .attr("font-size",61).attr("textLength",legendLengths[k]).attr("lengthAdjust","spacingAndGlyphs")
    .attr("fill","#000").text(t);
});
</script>
</body></html>
